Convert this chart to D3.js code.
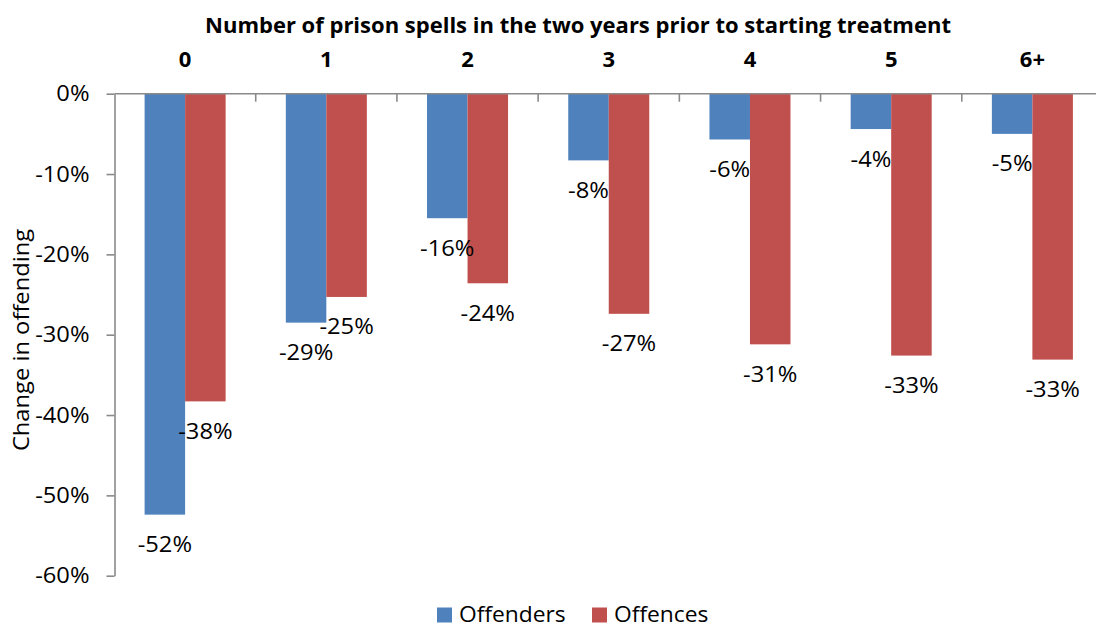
<!DOCTYPE html>
<html>
<head>
<meta charset="utf-8">
<script src="https://cdn.jsdelivr.net/npm/d3@7"></script>
<style>
  html, body { margin: 0; padding: 0; background: #fff; }
  svg { display: block; }
</style>
</head>
<body>
<svg id="chart" width="1096" height="628"></svg>
<script>
// Number of prison spells in the two years before treatment
const categories = ["0", "1", "2", "3", "4", "5", "6+"];
const seriesNames = ["Offenders", "Offences"];
// Change in offending, in percent
const offenders = [-52.4, -28.5, -15.5, -8.3, -5.7, -4.4, -5.0];
const offences = [-38.3, -25.3, -23.6, -27.4, -31.2, -32.6, -33.1];
const yTicks = [0, -10, -20, -30, -40, -50, -60];
const colors = ["#4F81BD", "#C0504D"];

const FONT = "'Open Sans', 'Noto Sans', sans-serif";
const AXIS_GREY = "#8a8a8a";
const svg = d3.select("#chart");

const x = d3.scaleBand().domain(categories).range([114.5, 1103]).paddingInner(0).paddingOuter(0);
const x1 = d3.scaleBand().domain(seriesNames).range([0, x.bandwidth()]).paddingInner(0).paddingOuter(0.743);
const y = d3.scaleLinear().domain([-60, 0]).range([575.7, 93.7]);

const pct = v => (v < 0 ? "-" : "") + Math.round(Math.abs(v)) + "%";

// widen text horizontally around its anchor point
function stretch(sel, sx) {
  sel.each(function () {
    const t = d3.select(this);
    const tx = +t.attr("x") || 0, ty = +t.attr("y") || 0;
    t.attr("x", 0).attr("y", 0)
      .attr("transform", `translate(${tx},${ty}) scale(${sx},1)`);
  });
}

const rows = categories.map((c, i) => ({ cat: c, values: [offenders[i], offences[i]] }));

// bars
const groups = svg.append("g").selectAll("g").data(rows).join("g")
  .attr("transform", d => `translate(${x(d.cat)},0)`);
groups.selectAll("rect").data(d => d.values.map((v, k) => ({ v, k }))).join("rect")
  .attr("x", d => x1(seriesNames[d.k]))
  .attr("width", x1.bandwidth())
  .attr("y", y(0))
  .attr("height", d => y(d.v) - y(0))
  .attr("fill", d => colors[d.k]);

// value labels under each bar end
const valueLabels = groups.selectAll("text").data(d => d.values.map((v, k) => ({ v, k }))).join("text")
  .attr("x", d => x1(seriesNames[d.k]) + x1.bandwidth() / 2)
  .attr("y", d => y(d.v) + 37.5)
  .attr("text-anchor", "middle")
  .attr("font-family", FONT)
  .attr("font-size", 21)
  .attr("fill", "#000")
  .text(d => pct(d.v));
stretch(valueLabels, 1.13);

// y axis
const yAxis = svg.append("g").attr("transform", `translate(${x.range()[0]},0)`)
  .call(d3.axisLeft(y).tickValues(yTicks).tickFormat(pct).tickSize(8).tickSizeOuter(0).tickPadding(17));
yAxis.select(".domain").attr("stroke", AXIS_GREY).attr("stroke-width", 1.6);
yAxis.selectAll(".tick line").attr("stroke", AXIS_GREY).attr("stroke-width", 1.6);
yAxis.selectAll(".tick text")
  .attr("font-family", FONT).attr("font-size", 21).attr("fill", "#000")
  .attr("dy", null).attr("y", 7.2);
stretch(yAxis.selectAll(".tick text"), 1.13);

// category axis along the zero line, ticks at band boundaries
const xAxis = svg.append("g");
xAxis.append("line")
  .attr("x1", x.range()[0]).attr("x2", x.range()[1])
  .attr("y1", y(0)).attr("y2", y(0))
  .attr("stroke", AXIS_GREY).attr("stroke-width", 1.6);
xAxis.selectAll(".sep").data(categories.slice(1)).join("line")
  .attr("class", "sep")
  .attr("x1", d => x(d)).attr("x2", d => x(d))
  .attr("y1", y(0)).attr("y2", y(0) + 8)
  .attr("stroke", AXIS_GREY).attr("stroke-width", 1.6);
xAxis.selectAll(".cat").data(categories).join("text")
  .attr("class", "cat")
  .attr("x", d => x(d) + x.bandwidth() / 2)
  .attr("y", 66.5)
  .attr("text-anchor", "middle")
  .attr("font-family", FONT)
  .attr("font-weight", "bold")
  .attr("font-size", 22)
  .text(d => d);

// titles
svg.append("text")
  .attr("x", 578).attr("y", 33.3)
  .attr("text-anchor", "middle")
  .attr("font-family", FONT).attr("font-weight", "bold").attr("font-size", 22)
  .text("Number of prison spells in the two years prior to starting treatment");

svg.append("text")
  .attr("transform", "translate(28.5,340) rotate(-90) scale(1.13,1)")
  .attr("text-anchor", "middle")
  .attr("font-family", FONT).attr("font-size", 21)
  .text("Change in offending");

// legend
const legend = svg.append("g");
const legendX = [437, 592];
seriesNames.forEach((name, k) => {
  legend.append("rect").attr("x", legendX[k]).attr("y", 607.5).attr("width", 15).attr("height", 15).attr("fill", colors[k]);
  const t = legend.append("text").attr("x", legendX[k] + 22).attr("y", 622)
    .attr("font-family", FONT).attr("font-size", 21).text(name);
  stretch(t, 1.085);
});
</script>
</body>
</html>
